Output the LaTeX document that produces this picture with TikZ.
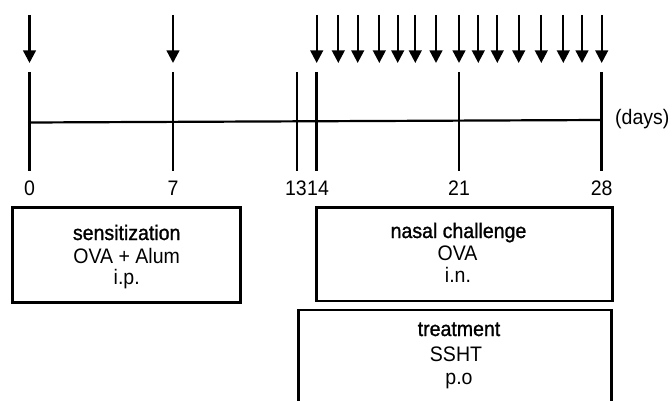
\documentclass[tikz,border=0pt]{standalone}
\usepackage{fontspec}
\setmainfont{Liberation Sans}[FakeStretch=0.93]
\newfontfamily\ttlfont{Liberation Sans}[FakeStretch=0.93,FakeBold=1.2]
\usetikzlibrary{arrows.meta}
\begin{document}
\begin{tikzpicture}[x=1pt,y=-1pt,
  axisline/.style={line width=2.2pt},
  tickline/.style={line width=2.5pt},
  evt/.style={line width=2.3pt,-{Triangle[width=12.5pt,length=12.5pt]}},
  boxline/.style={draw,line width=2.6pt,line join=miter},
  lbl/.style={font=\fontsize{21}{24}\selectfont,inner sep=0pt,anchor=base},
  btxt/.style={font=\fontsize{21}{24}\selectfont,inner sep=0pt,anchor=base},
  ttl/.style={btxt,font=\ttlfont\fontsize{21}{24}\selectfont}]
\useasboundingbox (0,0) rectangle (672,401);
% axis
\coordinate (ax0) at (29.5,122.5);
\coordinate (ax1) at (601.7,120);
\draw[axisline] (ax0) -- (ax1);
% ticks
\foreach \n/\x in {t0/29.5,t7/173,t13/297,t14/316.5,t21/459,t28/601.7}{
  \coordinate (\n a) at (\x,72);
  \coordinate (\n b) at (\x,171);
  \draw[tickline] (\n a) -- (\n b);
}
% arrows
\foreach \x [count=\i] in {29.5,173,316.7,338.3,357.7,379.3,397.7,415.3,436,459,478.3,497.3,518.7,541.3,563.3,582,601.7}{
  \coordinate (ar\i a) at (\x,15);
  \coordinate (ar\i b) at (\x,63);
  \draw[evt] (ar\i a) -- (ar\i b);
}
% labels
\node[lbl] (l0) at (29.5,195) {0};
\node[lbl] (l7) at (173,195) {7};
\node[lbl,anchor=base east] (l13) at (307,195) {13};
\node[lbl,anchor=base west] (l14) at (307,195) {14};
\node[lbl] (l21) at (459,195) {21};
\node[lbl] (l28) at (601.7,195) {28};
\node[lbl,anchor=base west] (days) at (615,124.5) {(days)};
% sensitization box
\node[boxline,minimum width=228pt,minimum height=94.6pt,inner sep=0pt] (sens) at (126.7,255) {};
\node[ttl] (s1) at (126.7,240) {sensitization};
\node[btxt] (s2) at (126.7,263.3) {OVA + Alum};
\node[btxt] (s3) at (126.7,284) {i.p.};
% nasal challenge box
\node[boxline,minimum width=296pt,minimum height=93.3pt,inner sep=0pt] (nasal) at (464.7,254.4) {};
\node[ttl] (n1) at (458.5,238) {nasal challenge};
\node[btxt] (n2) at (457.5,260.5) {OVA};
\node[btxt] (n3) at (458,282.5) {i.n.};
% treatment box (open at the bottom)
\coordinate (tbl) at (298.3,405);
\coordinate (ttl) at (298.3,310);
\coordinate (ttr) at (611.7,310);
\coordinate (tbr) at (611.7,405);
\draw[boxline] (tbl) -- (ttl) -- (ttr) -- (tbr);
\node[ttl] (r1) at (459,336) {treatment};
\node[btxt] (r2) at (456,361.7) {SSHT};
\node[btxt] (r3) at (459,384) {p.o};
\end{tikzpicture}
\end{document}
